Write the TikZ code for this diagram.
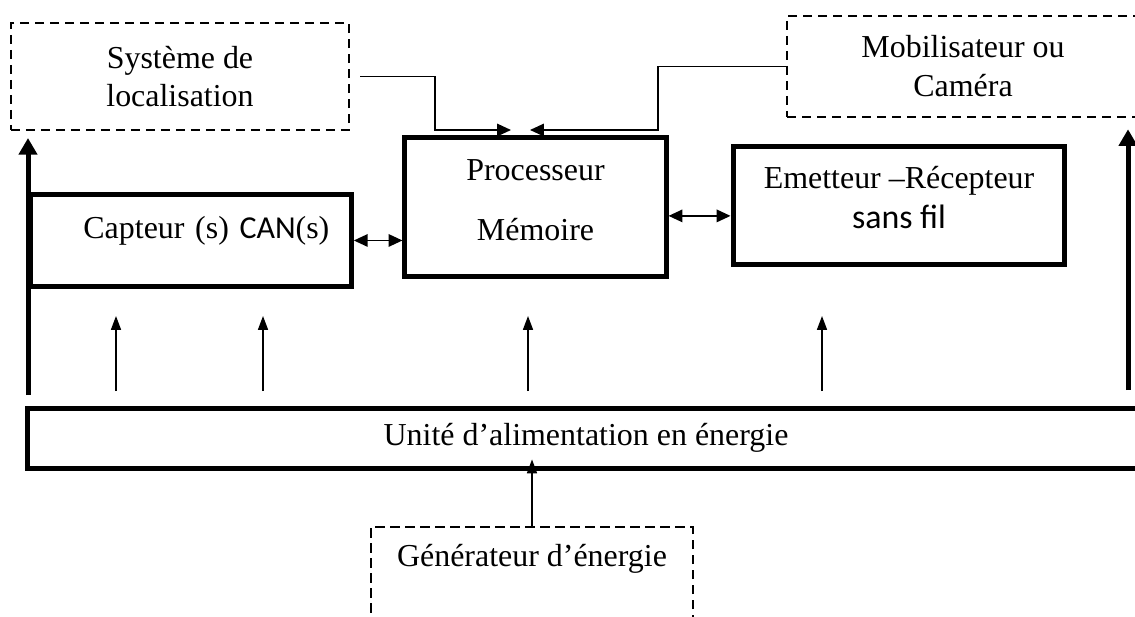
\documentclass[tikz,border=0pt]{standalone}
\usepackage{fontspec}
\setmainfont{Liberation Serif}
\newfontfamily\carlito{Carlito}
\usetikzlibrary{arrows.meta, positioning}

\begin{document}
\begin{tikzpicture}[
		x=0.36pt, y=-0.36pt,
		font=\fontsize{11.5}{14}\selectfont,
		bloc/.style={
			draw,
			line width=1.8pt,
			align=center,
			inner sep=0pt
		},
		tiret/.style={
			draw,
			line width=0.8pt,
			dash pattern=on 3.4pt off 2pt,
			align=center,
			inner sep=0pt
		},
		fleche/.style={-{Triangle[length=5pt, width=3.6pt]}, line width=0.55pt},
		grosse/.style={-{Triangle[length=6pt, width=6.5pt]}, line width=1.8pt},
		bidir/.style={{Triangle[length=5pt, width=4.5pt]}-{Triangle[length=5pt, width=4.5pt]}, line width=0.6pt},
		fil/.style={-{Triangle[length=5pt, width=4.5pt]}, line width=0.5pt}
		]
		
		\useasboundingbox (0,0) rectangle (1135,616);
		\clip (0,0) rectangle (1135,616);
		
		\node[tiret, minimum width=121.7pt, minimum height=38.5pt] (loc) at (180,76.5)
		{Système de\\localisation};
		
		\node[tiret, minimum width=126.7pt, minimum height=36.4pt] (mobil) at (963,66.5)
		{Mobilisateur ou\\Caméra};
		
		\node[bloc, anchor=north west, align=right, text width=99.7pt, inner xsep=7.9pt,
			text height=15.8pt, text depth=17.3pt] (cap) at (28,192)
		{Capteur (s) {\carlito CAN}(s)};
		
		\node[bloc, minimum width=94pt, text height=36.8pt, text depth=12.9pt] (proc) at (535.5,207)
		{Processeur\\[7.6pt]Mémoire};
		
		\node[bloc, minimum width=119.5pt, text height=29.8pt, text depth=13pt] (emet) at (899,205.5)
		{Emetteur –Récepteur\\[0.5pt]{\carlito\fontsize{12.2}{14}\selectfont sans fil}};
		
		\node[bloc, minimum width=401.8pt, minimum height=21.6pt] (unite) at (586,438)
		{Unité d’alimentation en énergie};
		
		\node[tiret, anchor=north, minimum width=115.9pt, text height=14pt, text depth=40pt]
		(gen) at (532,526) {Générateur d’énergie};
		
		% arrivees au-dessus du processeur
		\coordinate (coude1) at (435,130);
		\coordinate (coude2) at (658,130);
		\coordinate (pin1) at (511,130);
		\coordinate (pin2) at (530,130);
		
		\draw[fil, shorten <=3.6pt] (loc.east) -| (coude1) -- (pin1);
		\draw[fil] (mobil.west) -| (coude2) -- (pin2);
		
		\draw[bidir] (cap.east) -- (cap.east -| proc.west);
		\draw[bidir] ([yshift=-3.2pt]proc.east) -- ([yshift=-3.2pt]proc.east -| emet.west);
		
		% alimentation
		\coordinate (gauche) at (28,395);
		\coordinate (droite) at (1128,390);
		\draw[grosse, shorten >=2.5pt] (gauche) -- (gauche |- loc.south);
		\draw[grosse, shorten >=4pt] (droite) -- (droite |- mobil.south);
		
		\foreach \x [count=\i] in {116,263,528,822} {
			\coordinate (bas\i) at (\x,391);
			\coordinate (haut\i) at (\x,316);
			\draw[fleche] (bas\i) -- (haut\i);
		}
		
		\coordinate (entree) at (gen.north |- unite.south);
		\draw[fleche] (gen.north) -- ([yshift=4pt]entree);
		
	\end{tikzpicture}
\end{document}
